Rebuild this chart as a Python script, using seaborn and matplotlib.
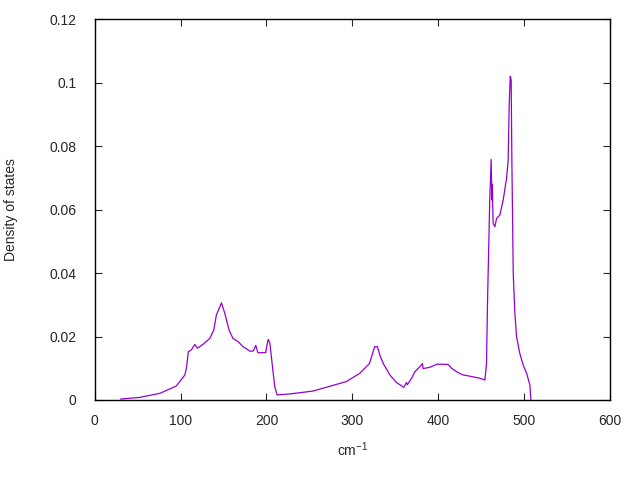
import matplotlib

matplotlib.use("agg")

import pandas as pd
import matplotlib.pyplot as plt
import seaborn as sns

# wavenumber (cm-1) and density of states
wavenumber = [
    30, 52, 76, 95, 105, 107, 109, 112.6, 116.5, 119.6, 126, 134, 138.6,
    141.7, 147.6, 151.5, 156.5, 161, 167, 172.8, 180.6, 184.5, 187.6, 190,
    199, 202, 204, 207, 209.7, 212.4, 227, 254, 293, 308.7, 320, 326, 329.3,
    332, 336, 343.7, 351.5, 360, 363, 364, 369, 372.8, 378.6, 381.7, 382.4,
    390.3, 398.8, 411.6, 415.5, 423.3, 429, 436.9, 447.7, 454.4, 456.3,
    457.5, 459, 460, 461.7, 462.5, 463, 464, 466, 468, 471.8, 475.7, 479.6,
    481.5, 482.7, 483.9, 485, 485.8, 487.4, 489.3, 491.3, 495, 499, 503,
    506.8, 508,
]
dos = [
    0.0003, 0.0008, 0.0021, 0.0044, 0.0079, 0.0104, 0.0152, 0.0158, 0.0175,
    0.0163, 0.0175, 0.0194, 0.0220, 0.0268, 0.0306, 0.0273, 0.0220, 0.0194,
    0.0184, 0.0168, 0.0154, 0.0154, 0.0172, 0.0149, 0.0149, 0.0191, 0.0179,
    0.0105, 0.0042, 0.0016, 0.0019, 0.0028, 0.0058, 0.0084, 0.0115, 0.0168,
    0.0168, 0.0142, 0.0115, 0.0079, 0.0055, 0.0040, 0.0055, 0.0048, 0.0068,
    0.0089, 0.0105, 0.0115, 0.0099, 0.0103, 0.0113, 0.0112, 0.0100, 0.0086,
    0.0079, 0.0075, 0.0069, 0.0063, 0.0115, 0.0315, 0.0499, 0.0625, 0.0758,
    0.0630, 0.0680, 0.0557, 0.0546, 0.0572, 0.0583, 0.0630, 0.0698, 0.0756,
    0.0929, 0.1020, 0.1008, 0.0756, 0.0399, 0.0273, 0.0199, 0.0147, 0.0110,
    0.0084, 0.0047, 0.0000,
]
xticks = [0, 100, 200, 300, 400, 500, 600]
yticks = [0, 0.02, 0.04, 0.06, 0.08, 0.1, 0.12]
ytick_labels = ["0", "0.02", "0.04", "0.06", "0.08", "0.1", "0.12"]

df = pd.DataFrame({"cm": wavenumber, "dos": dos})

sns.set_style("ticks")
plt.rcParams["font.family"] = ["Liberation Sans", "DejaVu Sans"]

fig = plt.figure(figsize=(6.4, 4.8), dpi=100)
ax = fig.add_axes([0.148, 0.1667, 0.805, 0.7933])
sns.lineplot(data=df, x="cm", y="dos", color="#9400D3", linewidth=0.9, ax=ax)

ax.set_xlim(0, 600)
ax.set_ylim(0, 0.12)
ax.set_xticks(xticks)
ax.set_yticks(yticks)
ax.set_yticklabels(ytick_labels)
ax.tick_params(direction="in", top=True, right=True, length=5, labelsize=10)
ax.tick_params(axis="x", pad=10)
ax.tick_params(axis="y", pad=13)
for s in ax.spines.values():
    s.set_visible(True)
    s.set_linewidth(1)
    s.set_color("black")
ax.set_xlabel("cm$^{\\mathregular{-1}}$", fontsize=10, labelpad=9)
ax.set_ylabel("Density of states", fontsize=10, labelpad=23)

plt.savefig("out.png")
